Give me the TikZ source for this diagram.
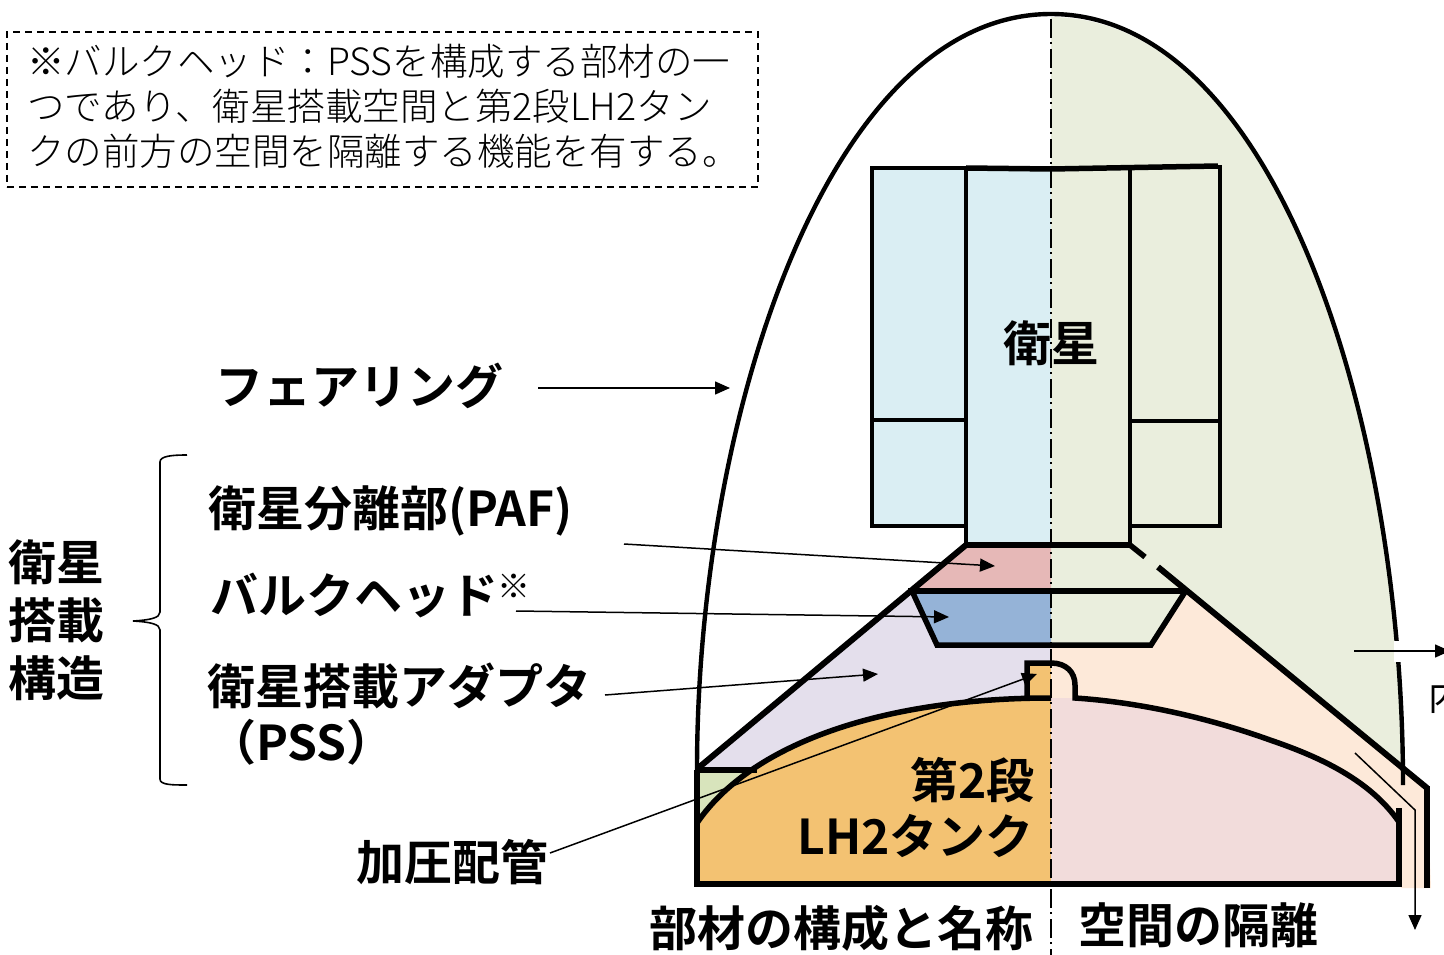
\documentclass[tikz,border=0pt]{standalone}
\usepackage{fontspec}
\setmainfont{Noto Sans CJK JP}
\newfontfamily\labfont{Noto Sans CJK JP Bold}
\newfontfamily\notefont{Noto Sans CJK JP Light}
\usetikzlibrary{arrows.meta}
\definecolor{cgreen}{HTML}{EAEEDD}
\definecolor{csat}{HTML}{DAEEF3}
\definecolor{cpaf}{HTML}{E6B8B7}
\definecolor{cbulk}{HTML}{95B3D7}
\definecolor{cpss}{HTML}{E4DFEC}
\definecolor{cpipe}{HTML}{D8E4BC}
\definecolor{ctank}{HTML}{F3C272}
\definecolor{cpeach}{HTML}{FDE9D9}
\definecolor{cpink}{HTML}{F2DCDB}
\tikzset{
 wall/.style={line width=5.5pt,line join=miter},
 thinwall/.style={line width=4.8pt,line join=miter},
 shell/.style={line width=4.4pt},
 leader/.style={line width=1.5pt,-{Triangle[length=15pt,width=13pt]}},
 lab/.style={font=\fontsize{48}{48}\labfont,inner sep=0pt},
 notetxt/.style={font=\fontsize{37.5}{37.5}\notefont,inner sep=0pt,anchor=west},
}
\begin{document}
\begin{tikzpicture}[x=1pt,y=-1pt]
\useasboundingbox (0,0) rectangle (1444,955);
% fills
\fill[cgreen] (1051,17) .. controls (1273,17) and (1403,415) .. (1403,785) -- (1051,785) -- cycle;
\fill[csat] (872,168) rectangle (1051,526);
\fill[csat] (966,520) rectangle (1051,547);
\fill[cpaf] (966,547) -- (1051,547) -- (1051,591) -- (912,591) -- cycle;
\fill[cbulk] (912,591) -- (1051,591) -- (1051,645) -- (937,645) -- cycle;
\fill[cpss] (697,770) -- (912,591) -- (937,645) -- (1051,645) -- (1051,720) -- (800,770) -- (760,772) -- cycle;
\fill[cpipe] (697,770) rectangle (770,825);
\fill[ctank] (697,823) .. controls (750,745) and (880,698) .. (1051,698) -- (1051,884) -- (697,884) -- cycle;
\fill[ctank] (1027,663) rectangle (1051,698);
\fill[cpeach] (1051,645) -- (1151,645) -- (1185,592) -- (1427,788) -- (1431,888) -- (1401,888) -- (1399,884) -- (1051,884) -- cycle;
\fill[cpink] (1075,698)
  .. controls (1150,703) and (1220,722) .. (1270,740) .. controls (1320,757) and (1370,780) .. (1399,822) -- (1399,884) -- (1051,884) -- (1051,698) -- cycle;
% fairing
\draw[shell] (697,770) .. controls (697,415) and (829,14) .. (1051,14) .. controls (1273,14) and (1403,415) .. (1403,785);
\fill[white] (1394,641) rectangle (1408,662);
% satellite
\draw[thinwall] (966,420) -- (872,420) -- (872,168) -- (966,168);
\draw[thinwall] (872,420) -- (872,526) -- (966,526);
\draw[wall] (966,168) -- (1051,169) -- (1218,166);
\draw[thinwall] (966,166) -- (966,545);
\draw[wall] (966,545) -- (1130,545);
\draw[thinwall] (1130,545) -- (1130,168);
\draw[thinwall] (1130,526) -- (1220,526) -- (1220,165);
\draw[thinwall] (1130,421) -- (1220,421);
% cone and structure
\draw[wall,line width=6pt] (966,545) -- (697,769);
\draw[wall] (1130,545) -- (1145,557);
\draw[wall,line width=6pt] (1158,567) -- (1427,788);
\draw[wall] (1427,786) -- (1427,888);
\draw[wall] (908,591) -- (1185,591);
\draw[wall] (912,591) -- (937,645) -- (1151,645) -- (1185,592);
\draw[wall] (697,770) -- (757,770);
\draw[wall] (697,770) -- (697,884) -- (1399,884) -- (1399,808);
\draw[wall] (697,823) .. controls (750,745) and (880,698) .. (1051,698) -- (1027,698) -- (1027,663) -- (1051,663)
  .. controls (1066,663) and (1075,672) .. (1075,685) -- (1075,698)
  .. controls (1150,703) and (1220,722) .. (1270,740) .. controls (1320,757) and (1370,780) .. (1399,822);
% centre line
\coordinate (cltop) at (1051,19);
\coordinate (clbot) at (1051,955);
\draw[line width=1.6pt,dash pattern=on 19pt off 4pt on 2pt off 5pt] (cltop) -- (clbot);
% note
\node[draw,line width=1.8pt,dash pattern=on 7pt off 5pt,minimum width=751pt,minimum height=155pt,inner sep=0pt,anchor=north west] (notebox) at (6,31) {};
\node[notetxt] (n1) at (27,61) {※バルクヘッド：PSSを構成する部材の一};
\node[notetxt] (n2) at (27,106) {つであり、衛星搭載空間と第2段LH2タン};
\node[notetxt] (n3) at (27,151) {クの前方の空間を隔離する機能を有する。};
% labels
\node[lab] (fair) at (359,386) {フェアリング};
\node[lab,anchor=west] (paf) at (208,511) {衛星分離部(PAF)};
\node[lab,anchor=west] (bulk) at (210,595) {バルクヘッド};
\node[font=\fontsize{33}{33}\notefont,inner sep=0pt] (mark) at (514,586) {※};
\node[lab,anchor=west] (pss) at (207,686) {衛星搭載アダプタ};
\node[lab,anchor=west] (pss2) at (208,742) {（PSS）};
\node[lab] (sa) at (57,562) {衛星};
\node[lab] (sb) at (57,620) {搭載};
\node[lab] (sc) at (57,678) {構造};
\node[lab] (pipe) at (452,862) {加圧配管};
\node[lab] (sat) at (1051,343) {衛星};
\node[lab,anchor=east] (t1) at (1035,780) {第2段};
\node[lab,anchor=east] (t2) at (1034,836) {LH2タンク};
\node[lab,anchor=east] (b1) at (1034,928) {部材の構成と名称};
\node[lab,anchor=west] (b2) at (1078,925) {空間の隔離};
\node[font=\fontsize{37}{37}\selectfont,inner sep=0pt,anchor=west] (inner) at (1428,696) {内};
% leaders
\coordinate (a1s) at (538,388); \coordinate (a1e) at (730,388);
\coordinate (a2s) at (624,544); \coordinate (a2e) at (995,566);
\coordinate (a3s) at (516,611); \coordinate (a3e) at (949,617);
\coordinate (a4s) at (605,695); \coordinate (a4e) at (878,674);
\coordinate (a5s) at (550,853); \coordinate (a5e) at (1037,674);
\coordinate (a6s) at (1354,651); \coordinate (a6e) at (1450,651);
\coordinate (a7s) at (1355,753); \coordinate (a7m) at (1415,810); \coordinate (a7e) at (1415,930);
\draw[leader] (a1s) -- (a1e);
\draw[leader] (a2s) -- (a2e);
\draw[leader] (a3s) -- (a3e);
\draw[leader] (a4s) -- (a4e);
\draw[leader] (a5s) -- (a5e);
\draw[leader] (a6s) -- (a6e);
\draw[leader] (a7s) -- (a7m) -- (a7e);
% brace
\coordinate (brt) at (187,455); \coordinate (brm) at (133,621); \coordinate (brb) at (187,785);
\draw[line width=1.6pt] (brt) .. controls (172,455) and (160,456) .. (160,462) -- (160,612)
  .. controls (160,618) and (150,620) .. (brm) .. controls (150,622) and (160,624) .. (160,630)
  -- (160,779) .. controls (160,785) and (172,785) .. (brb);
\end{tikzpicture}
\end{document}
